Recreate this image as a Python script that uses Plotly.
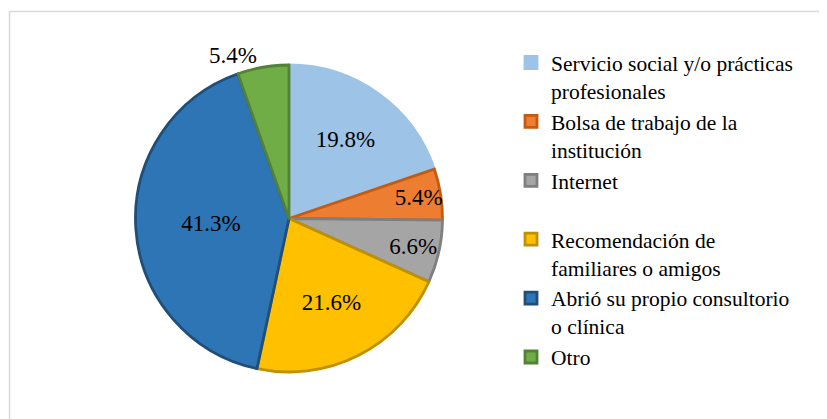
import plotly.graph_objects as go

labels = [
    'Servicio social y/o prácticas<br>profesionales',
    'Bolsa de trabajo de la<br>institución',
    'Internet<br> ',
    'Recomendación de<br>familiares o amigos',
    'Abrió su propio consultorio<br>o clínica',
    'Otro',
]
values = [19.8, 5.4, 6.6, 21.6, 41.3, 5.4]
fill_colors = ['#9DC3E6', '#ED7D31', '#A5A5A5', '#FFC000', '#2E75B6', '#70AD47']
line_colors = ['#9DC3E6', '#C55A11', '#7F7F7F', '#BF9000', '#1F4E79', '#548235']
text_pos = ['inside', 'inside', 'inside', 'inside', 'inside', 'outside']

# page body has an 8px margin, so the figure sits at (8, 8)
W, H = 819, 411
serif = 'Liberation Serif'

fig = go.Figure()
fig.add_trace(go.Pie(
    labels=labels,
    values=values,
    sort=False,
    direction='clockwise',
    rotation=0,
    texttemplate='%{value:.1f}%',
    textposition=text_pos,
    insidetextorientation='horizontal',
    textfont={'family': serif, 'size': 23, 'color': 'black'},
    marker={'colors': fill_colors, 'line': {'color': line_colors, 'width': 2.8}},
    domain={'x': [127.5 / W, 434.5 / W], 'y': [1 - 364 / H, 1 - 57 / H]},
    hoverinfo='label+percent',
))

fig.update_layout({
    'width': W,
    'height': H,
    'margin': {'t': 0, 'b': 0, 'l': 0, 'r': 0},
    'paper_bgcolor': 'white',
    'plot_bgcolor': 'white',
    'font': {'family': serif, 'size': 22, 'color': 'black'},
    'uniformtext': {'minsize': 23, 'mode': 'show'},
    'legend': {
        'x': 503 / W,
        'y': 1 - 34 / H,
        'xanchor': 'left',
        'yanchor': 'top',
        'valign': 'top',
        'tracegroupgap': 0,
        'font': {'family': serif, 'size': 21.5, 'color': 'black'},
    },
    'shapes': [dict(
        type='rect', xref='paper', yref='paper',
        x0=1.5 / W, x1=1.02, y0=-0.02, y1=1 - 3.5 / H,
        line={'color': '#D9D9D9', 'width': 1.5},
    )],
})

fig.write_html('out.html')
